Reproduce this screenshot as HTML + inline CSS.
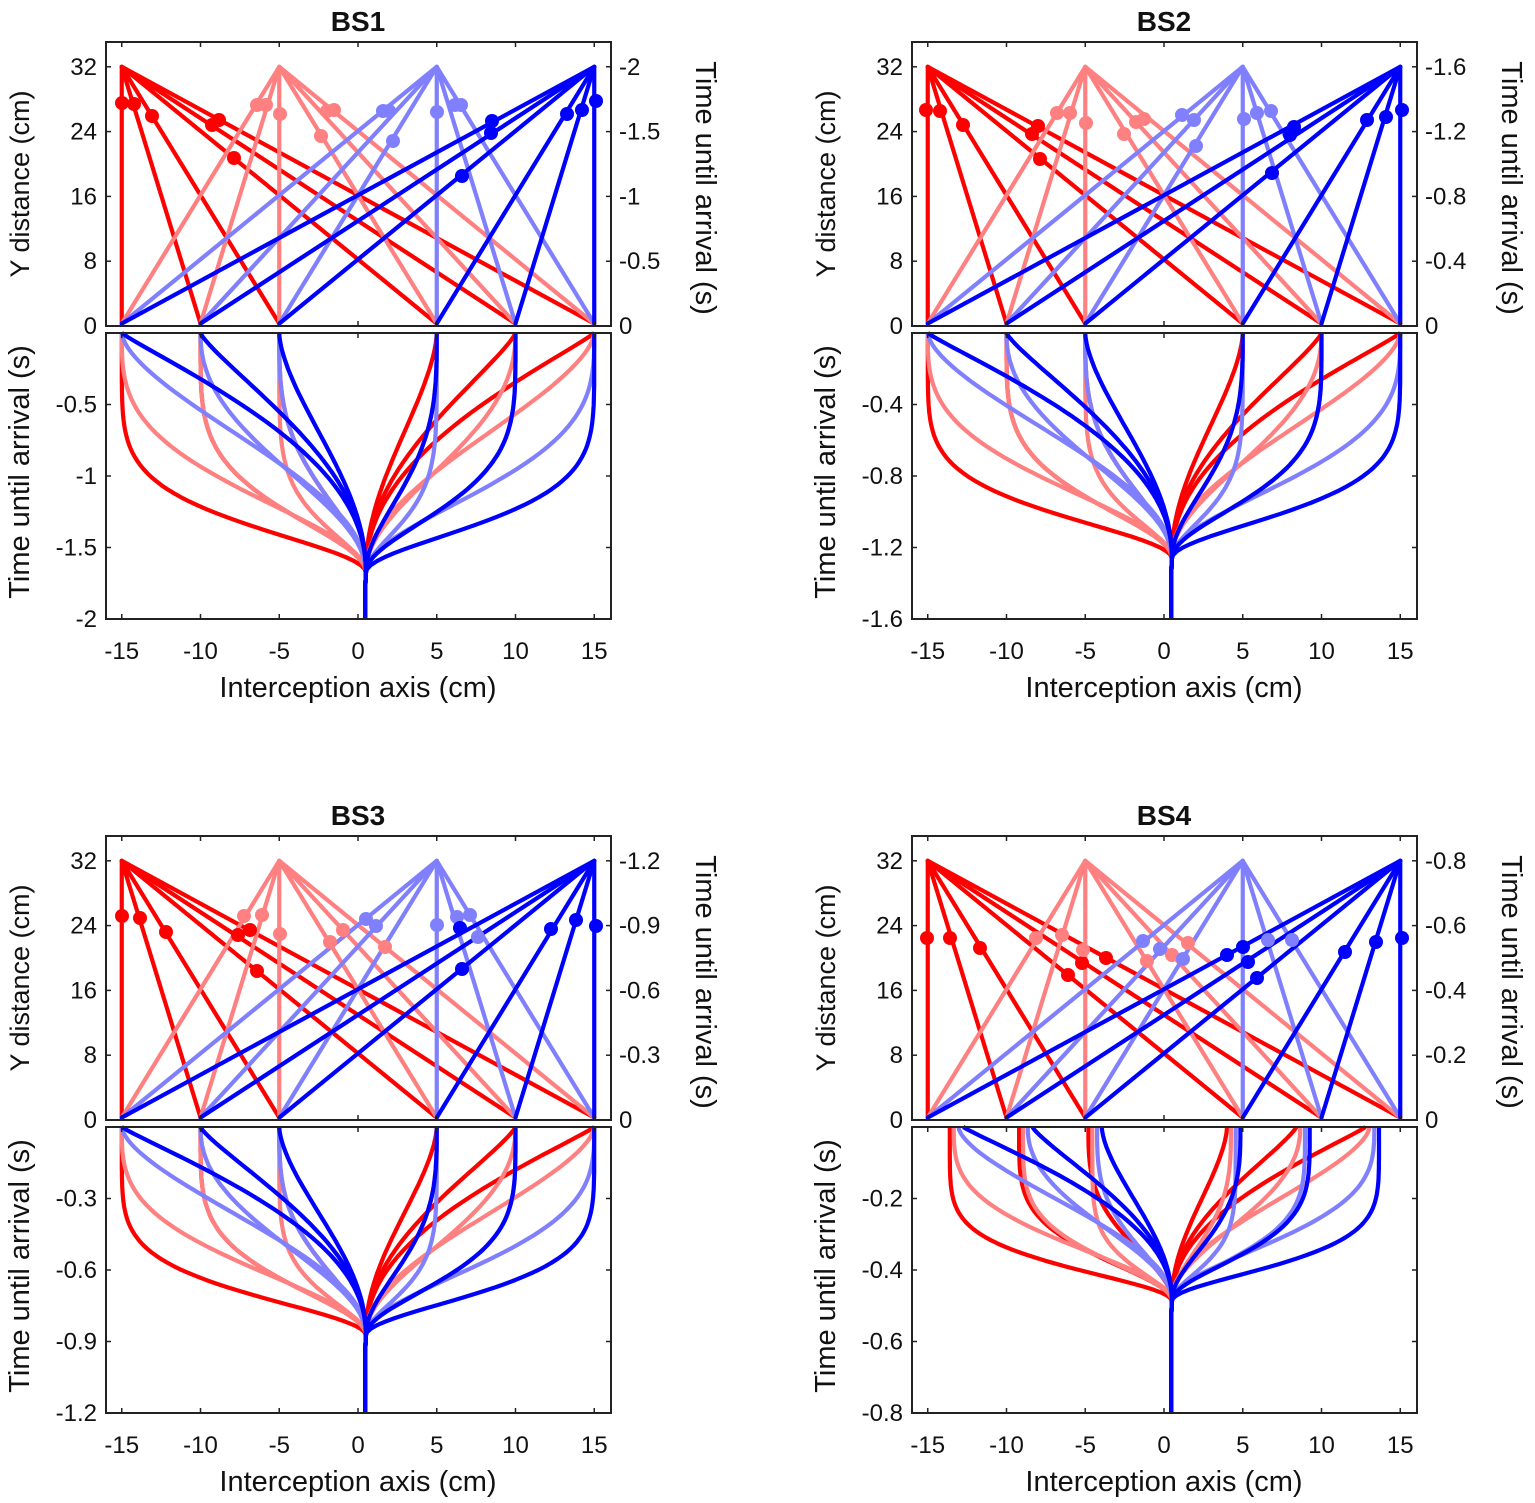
<!DOCTYPE html>
<html><head><meta charset="utf-8">
<style>
html,body{margin:0;padding:0;background:#fff;}
svg{display:block;}
text{font-family:"Liberation Sans",Arial,sans-serif;fill:#111;}
</style></head>
<body>
<svg id="s" width="1535" height="1503" xmlns="http://www.w3.org/2000/svg"></svg>
<script>
var NS="http://www.w3.org/2000/svg";
var S=document.getElementById('s');
var C=['#ff0000','#ff8080','#8080ff','#0000ff'];
var TOPS=[-15,-5,5,15];
var STARTS=[-15,-10,-5,5,10,15];
function X(v){return 358+15.75*v;}
function Y(v){return 326-8.1*v;}
function el(p,tag,a,txt){var e=document.createElementNS(NS,tag);for(var k in a)e.setAttribute(k,a[k]);if(txt!==undefined)e.textContent=txt;p.appendChild(e);return e;}
var panels=[
 {dx:0,dy:0,title:'BS1',rt:['-2','-1.5','-1','-0.5','0'],bt:['0','-0.5','-1','-1.5','-2'],conv:0.84,shrink:1,
  dots:[[[122,103],[134,104],[152,116],[212,125],[219,120],[234,158]],
        [[257,105],[266,105],[280,114],[321,136],[327,111],[334,110]],
        [[383,111],[389,111],[393,141],[437,112],[455,105],[461,105]],
        [[462,176],[491,133],[492,121],[567,114],[582,110],[596,101]]]},
 {dx:806,dy:0,title:'BS2',rt:['-1.6','-1.2','-0.8','-0.4','0'],bt:['0','-0.4','-0.8','-1.2','-1.6'],conv:0.79,shrink:1,
  dots:[[[120,110],[134,111],[157,125],[226,134],[232,126],[234,159]],
        [[251,113],[264,113],[280,123],[318,134],[330,122],[338,119]],
        [[376,115],[388,120],[390,146],[438,119],[451,113],[465,111]],
        [[466,173],[484,135],[488,127],[561,120],[580,117],[596,110]]]},
 {dx:0,dy:794,title:'BS3',rt:['-1.2','-0.9','-0.6','-0.3','0'],bt:['0','-0.3','-0.6','-0.9','-1.2'],conv:0.73,shrink:1,
  dots:[[[122,122],[140,124],[166,138],[238,141],[250,136],[257,177]],
        [[244,122],[262,121],[280,140],[330,148],[343,136],[385,153]],
        [[366,125],[376,132],[437,131],[457,123],[470,121],[478,143]],
        [[460,134],[462,175],[551,135],[576,126],[596,132]]]},
 {dx:806,dy:794,title:'BS4',rt:['-0.8','-0.6','-0.4','-0.2','0'],bt:['0','-0.2','-0.4','-0.6','-0.8'],conv:0.61,shrink:0.88,
  dots:[[[121,144],[144,144],[174,154],[262,181],[276,169],[300,164]],
        [[230,144],[256,141],[277,156],[341,167],[366,161],[382,149]],
        [[337,147],[354,155],[377,165],[462,146],[486,146]],
        [[421,161],[437,153],[442,168],[451,184],[539,158],[570,148],[596,144]]]}
];
panels.forEach(function(P){
 var g=el(S,'g',{transform:'translate('+P.dx+','+P.dy+')'});
 el(g,'text',{x:358,y:31,'text-anchor':'middle','font-size':'28','font-weight':'bold'},P.title);
 var gl=el(g,'g',{'stroke-width':'4.2','fill':'none','stroke-linecap':'round'});
 for(var c=0;c<4;c++){
  STARTS.forEach(function(xs){
   el(gl,'line',{x1:X(TOPS[c]),y1:Y(32),x2:X(xs),y2:Y(0.3),stroke:C[c]});
  });
 }
 for(var c=0;c<4;c++){P.dots[c].forEach(function(d){el(g,'circle',{cx:d[0],cy:d[1],r:7,fill:C[c]});});}
 var T0=333,H=286,tc=P.conv;
 var gb=el(g,'g',{'stroke-width':'4.2','fill':'none','stroke-linejoin':'round'});
 var shift=[-0.4,-0.15,0.15,0.45];
 for(var c=0;c<4;c++){
  STARTS.forEach(function(xs){
   var d=Math.abs(TOPS[c]-xs)/30;
   var a=1.1+4.5*(1-d)*(1-d);
   var b=2.2;
   var x0=xs*P.shrink+(P.shrink<1?shift[c]:0);
   var pts=[];
   for(var i=0;i<=60;i++){var s=i/60;var f=Math.pow(1-Math.pow(s,a),b);
    var xv=0.5+(x0-0.5)*f;pts.push(X(xv).toFixed(1)+','+(T0+H*tc*s).toFixed(1));}
   pts.push(X(0.45).toFixed(1)+','+(T0+H*(tc+0.06)).toFixed(1));
   pts.push(X(0.45).toFixed(1)+','+(T0+H).toFixed(1));
   el(gb,'polyline',{points:pts.join(' '),stroke:C[c]});
  });
 }
 el(g,'rect',{x:106,y:42,width:505,height:284,fill:'none',stroke:'#222','stroke-width':'2'});
 el(g,'rect',{x:106,y:333,width:505,height:286,fill:'none',stroke:'#222','stroke-width':'2'});
 var tk=el(g,'g',{stroke:'#222','stroke-width':'1.5'});
 [-15,-10,-5,0,5,10,15].forEach(function(v){var x=X(v);
  el(tk,'line',{x1:x,y1:42,x2:x,y2:47});el(tk,'line',{x1:x,y1:326,x2:x,y2:321});
  el(tk,'line',{x1:x,y1:333,x2:x,y2:338});el(tk,'line',{x1:x,y1:619,x2:x,y2:614});
  el(g,'text',{x:x,y:659,'text-anchor':'middle','font-size':'24'},String(v));
 });
 [0,8,16,24,32].forEach(function(v,i){var y=Y(v);
  el(tk,'line',{x1:106,y1:y,x2:111,y2:y});el(tk,'line',{x1:611,y1:y,x2:606,y2:y});
  el(g,'text',{x:97,y:y+8,'text-anchor':'end','font-size':'24'},String(v));
  el(g,'text',{x:619,y:y+8,'font-size':'24'},P.rt[4-i]);
 });
 for(var i=0;i<5;i++){var y=T0+H*i/4;
  el(tk,'line',{x1:106,y1:y,x2:111,y2:y});el(tk,'line',{x1:611,y1:y,x2:606,y2:y});
  if(i>0)el(g,'text',{x:97,y:y+8,'text-anchor':'end','font-size':'24'},P.bt[i]);
 }
 el(g,'text',{x:358,y:697,'text-anchor':'middle','font-size':'29'},'Interception axis (cm)');
 el(g,'text',{transform:'translate(29,184) rotate(-90)','text-anchor':'middle','font-size':'27'},'Y distance (cm)');
 el(g,'text',{transform:'translate(29,472) rotate(-90)','text-anchor':'middle','font-size':'29'},'Time until arrival (s)');
 el(g,'text',{transform:'translate(696,188) rotate(90)','text-anchor':'middle','font-size':'29'},'Time until arrival (s)');
});
</script>
</body></html>
